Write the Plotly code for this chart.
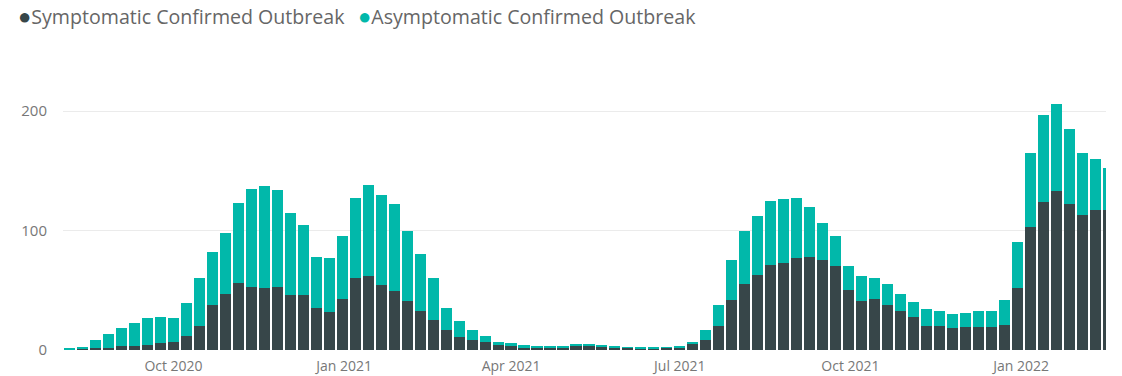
import plotly.graph_objects as go
import pandas as pd

# ── DATA ────────────────────────────────────────────────────────────────────
# weekly blocks (Mon-Sat)
week_start = pd.date_range("2020-08-03", periods=81, freq="7D")

symptomatic = [
    0.7, 1, 2, 2, 3, 3, 4, 6, 7, 12,
    20, 38, 47, 56, 53, 52, 53, 46, 46, 35,
    32, 43, 60, 62, 54, 49, 41, 33, 25, 17,
    11, 8, 7, 4, 3, 2, 2, 2, 2, 3,
    3, 3, 2.5, 2, 1.5, 1.5, 2, 2.5, 5, 8,
    20, 42, 55, 63, 71, 73, 77, 78, 75, 70,
    50, 41, 43, 38, 33, 28, 20, 20, 18, 19,
    19, 19, 21, 52, 103, 124, 133, 122, 113, 117,
    117,
]
asymptomatic = [
    0.8, 1, 6, 11, 15, 20, 23, 22, 20, 27,
    40, 44, 51, 67, 82, 85, 81, 69, 59, 43,
    45, 52, 67, 76, 76, 73, 59, 47, 35, 18,
    13, 9, 5, 3, 2.5, 2.5, 1.5, 1, 1, 2,
    2, 1, 1, 0.5, 0.5, 0.5, 0.5, 1, 2, 9,
    18, 33, 45, 49, 54, 53, 50, 42, 31, 25,
    20, 21, 17, 17, 14, 12, 14, 13, 12, 12,
    14, 14, 21, 38, 62, 73, 73, 63, 52, 43,
    35,
]

series_names = ["Symptomatic Confirmed Outbreak", "Asymptomatic Confirmed Outbreak"]
series_colors = ["#374649", "#01B8AA"]

# ── FIGURE ──────────────────────────────────────────────────────────────────
DAY_MS = 24 * 3600 * 1000
centers = week_start + pd.Timedelta(days=3)

fig = go.Figure()
for name, vals, col in zip(series_names, [symptomatic, asymptomatic], series_colors):
    fig.add_trace(go.Bar(
        x=centers, y=vals, name=name,
        width=6 * DAY_MS,
        marker=dict(color=col, line=dict(width=0)),
        showlegend=False,
    ))

# Power BI style legend: big dot + label
for name, col, xpos in zip(series_names, series_colors, [-0.0455, 0.2805]):
    fig.add_annotation(
        text=f'<span style="color:{col};font-size:22px">●</span>{name}',
        xref="paper", yref="paper", x=xpos, y=1.288,
        xanchor="left", yanchor="middle", showarrow=False,
        font=dict(family="Open Sans", size=19.6, color="#666666"),
    )

fig.update_layout(
    barmode="stack",
    width=1122, height=376,
    paper_bgcolor="white", plot_bgcolor="white",
    margin=dict(l=63, r=16, t=90, b=26),
    font=dict(family="Open Sans", color="#777777", size=12),
    xaxis=dict(
        type="date",
        range=["2020-08-02 10:00", "2022-02-15 19:00"],
        tick0="2020-10-01", dtick="M3", tickformat="%b %Y",
        showgrid=False, zeroline=False, showline=False,
        ticks="outside", ticklen=3, tickcolor="rgba(0,0,0,0)",
        tickfont=dict(size=14, color="#777777"),
        automargin=False,
    ),
    yaxis=dict(
        range=[0, 217.6], tickvals=[0, 100, 200],
        showgrid=True, gridcolor="#ebebeb", gridwidth=1,
        zeroline=False, showline=False,
        ticklabelstandoff=15,
        tickfont=dict(size=15, color="#777777"),
        automargin=False,
    ),
)

fig.write_html(
    "out.html",
    config={"displayModeBar": False},
    post_script="document.body.style.margin='0';",
)
